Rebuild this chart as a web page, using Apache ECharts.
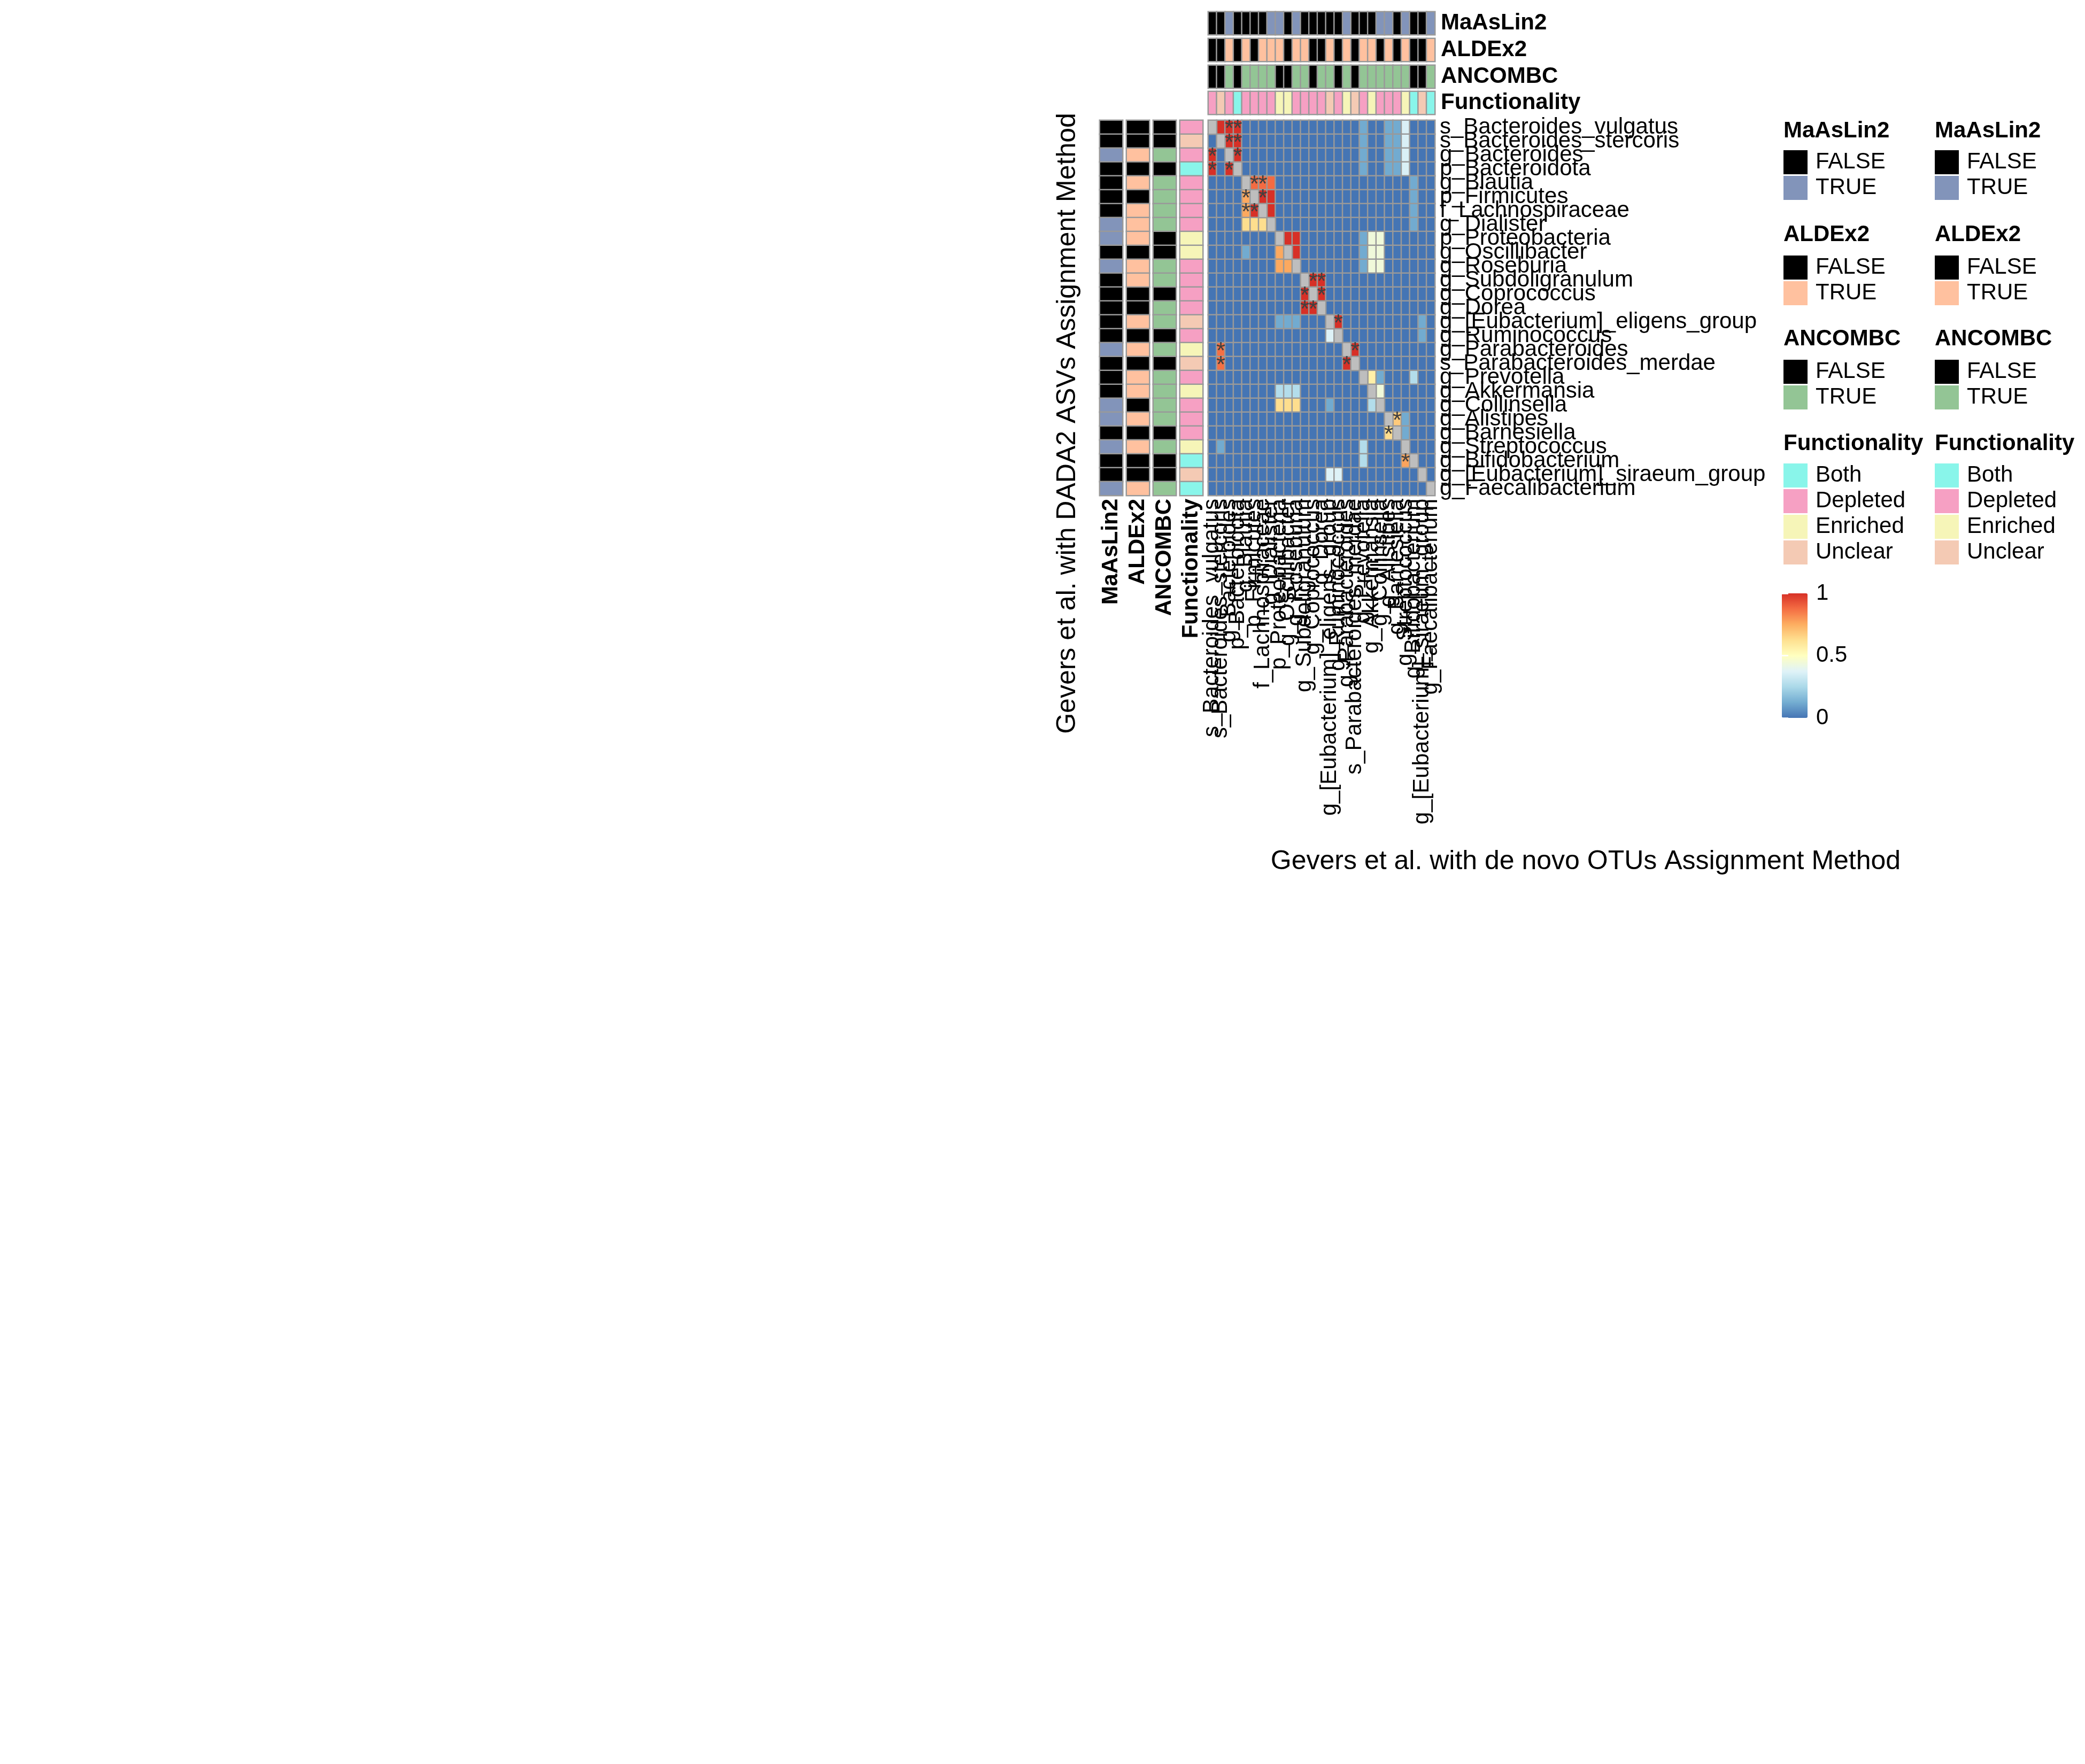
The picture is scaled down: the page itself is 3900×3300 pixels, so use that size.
<!DOCTYPE html>
<html><head><meta charset="utf-8">
<script src="https://cdn.jsdelivr.net/npm/echarts@6/dist/echarts.min.js"></script>
<style>html,body{margin:0;padding:0;background:#fff}#chart{width:3900px;height:3300px}</style>
</head><body><div id="chart"></div>
<script>
// ---------------- DATA ----------------
const rowTaxa = ['s_Bacteroides_vulgatus','s_Bacteroides_stercoris','g_Bacteroides','p_Bacteroidota','g_Blautia','p_Firmicutes','f_Lachnospiraceae','g_Dialister','p_Proteobacteria','g_Oscillibacter','g_Roseburia','g_Subdoligranulum','g_Coprococcus','g_Dorea','g_[Eubacterium]_eligens_group','g_Ruminococcus','g_Parabacteroides','s_Parabacteroides_merdae','g_Prevotella','g_Akkermansia','g_Collinsella','g_Alistipes','g_Barnesiella','g_Streptococcus','g_Bifidobacterium','g_[Eubacterium]_siraeum_group','g_Faecalibacterium'];
const colTaxa = ['s_Bacteroides_vulgatus','s_Bacteroides_stercoris','g_Bacteroides','p_Bacteroidota','g_Blautia','p_Firmicutes','f_Lachnospiraceae','g_Dialister','p_Proteobacteria','g_Oscillibacter','g_Roseburia','g_Subdoligranulum','g_Coprococcus','g_Dorea','g_[Eubacterium]_eligens_group','g_Ruminococcus','g_Parabacteroides','s_Parabacteroides_merdae','g_Prevotella','g_Akkermansia','g_Collinsella','g_Alistipes','g_Barnesiella','g_Streptococcus','g_Bifidobacterium','g_[Eubacterium]_siraeum_group','g_Faecalibacterium'];

const rowMaAsLin2 = ['FALSE','FALSE','TRUE','FALSE','FALSE','FALSE','FALSE','TRUE','TRUE','FALSE','TRUE','FALSE','FALSE','FALSE','FALSE','FALSE','TRUE','FALSE','FALSE','FALSE','TRUE','TRUE','FALSE','TRUE','FALSE','FALSE','TRUE'];
const rowALDEx2   = ['FALSE','FALSE','TRUE','FALSE','TRUE','FALSE','TRUE','TRUE','TRUE','FALSE','TRUE','TRUE','FALSE','FALSE','TRUE','FALSE','TRUE','FALSE','TRUE','TRUE','FALSE','TRUE','FALSE','TRUE','FALSE','FALSE','TRUE'];
const rowANCOMBC  = ['FALSE','FALSE','TRUE','FALSE','TRUE','TRUE','TRUE','TRUE','FALSE','FALSE','TRUE','TRUE','FALSE','TRUE','TRUE','FALSE','TRUE','FALSE','TRUE','TRUE','TRUE','TRUE','FALSE','TRUE','FALSE','FALSE','TRUE'];
const rowFunctionality = ['Depleted','Unclear','Depleted','Both','Depleted','Depleted','Depleted','Depleted','Enriched','Enriched','Depleted','Depleted','Depleted','Depleted','Unclear','Depleted','Enriched','Unclear','Depleted','Enriched','Depleted','Depleted','Depleted','Enriched','Both','Unclear','Both'];

const colMaAsLin2 = ['FALSE','FALSE','TRUE','FALSE','FALSE','FALSE','FALSE','TRUE','TRUE','FALSE','TRUE','FALSE','FALSE','FALSE','FALSE','FALSE','TRUE','FALSE','FALSE','FALSE','TRUE','TRUE','FALSE','TRUE','FALSE','FALSE','TRUE'];
const colALDEx2   = ['FALSE','FALSE','TRUE','FALSE','TRUE','FALSE','TRUE','TRUE','TRUE','FALSE','TRUE','TRUE','FALSE','FALSE','TRUE','FALSE','TRUE','FALSE','TRUE','TRUE','FALSE','TRUE','FALSE','TRUE','FALSE','FALSE','TRUE'];
const colANCOMBC  = ['FALSE','FALSE','TRUE','FALSE','TRUE','TRUE','TRUE','TRUE','FALSE','FALSE','TRUE','TRUE','FALSE','TRUE','TRUE','FALSE','TRUE','FALSE','TRUE','TRUE','TRUE','TRUE','TRUE','TRUE','FALSE','FALSE','TRUE'];
const colFunctionality = ['Depleted','Unclear','Depleted','Both','Depleted','Depleted','Depleted','Depleted','Enriched','Enriched','Depleted','Depleted','Depleted','Depleted','Unclear','Depleted','Enriched','Unclear','Depleted','Enriched','Depleted','Depleted','Depleted','Enriched','Both','Unclear','Both'];

// heatmap values (rows = DADA2 ASVs, columns = de novo OTUs); null = NA (diagonal)
const corr = [
 [null,1,1,1,0,0,0,0,0,0,0,0,0,0,0,0,0,0,0.12,0,0,0.12,0.12,0.36,0,0,0],
 [0,null,1,1,0,0,0,0,0,0,0,0,0,0,0,0,0,0,0.12,0,0,0.12,0.12,0.36,0,0,0],
 [1,0,null,1,0,0,0,0,0,0,0,0,0,0,0,0,0,0,0.12,0,0,0.12,0.12,0.36,0,0,0],
 [1,0,1,null,0,0,0,0,0,0,0,0,0,0,0,0,0,0,0.12,0,0,0.12,0.12,0.36,0,0,0],
 [0,0,0,0,null,0.88,0.88,0.88,0,0,0,0,0,0,0,0,0,0,0,0,0,0,0,0,0.12,0,0],
 [0,0,0,0,0.76,null,1,1,0,0,0,0,0,0,0,0,0,0,0,0,0,0,0,0,0.12,0,0],
 [0,0,0,0,0.76,1,null,1,0,0,0,0,0,0,0,0,0,0,0,0,0,0,0,0,0.12,0,0],
 [0,0,0,0,0.63,0.63,0.63,null,0,0,0,0,0,0,0,0,0,0,0,0,0,0,0,0,0.12,0,0],
 [0,0,0,0,0,0,0,0,null,1,1,0,0,0,0,0,0,0,0.12,0.44,0.44,0,0,0,0,0,0],
 [0,0,0,0,0.12,0,0,0,0.76,null,1,0,0,0,0,0,0,0,0.12,0.44,0.44,0,0,0,0,0,0],
 [0,0,0,0,0,0,0,0,0.76,0.76,null,0,0,0,0,0,0,0,0.12,0.44,0.44,0,0,0,0,0,0],
 [0,0,0,0,0,0,0,0,0,0,0,null,1,1,0,0,0,0,0,0,0,0,0,0,0,0,0],
 [0,0,0,0,0,0,0,0,0,0,0,1,null,1,0,0,0,0,0,0,0,0,0,0,0,0,0],
 [0,0,0,0,0,0,0,0,0,0,0,1,1,null,0,0,0,0,0,0,0,0,0,0,0,0,0],
 [0,0,0,0,0,0,0,0,0.12,0.12,0.12,0,0,0,null,1,0,0,0,0,0,0,0,0,0,0.12,0],
 [0,0,0,0,0,0,0,0,0,0,0,0,0,0,0.37,null,0,0,0,0,0,0,0,0,0,0.12,0],
 [0,0.87,0,0,0,0,0,0,0,0,0,0,0,0,0,0,null,1,0,0,0,0,0,0,0,0,0],
 [0,0.87,0,0,0,0,0,0,0,0,0,0,0,0,0,0,1,null,0,0,0,0,0,0,0,0,0],
 [0,0,0,0,0,0,0,0,0,0,0,0,0,0,0,0,0,0,null,0.56,0.12,0,0,0,0.27,0,0],
 [0,0,0,0,0,0,0,0,0.27,0.27,0.27,0,0,0,0,0,0,0,0,null,0.44,0,0,0,0,0,0],
 [0,0,0,0,0,0,0,0,0.63,0.63,0.63,0,0,0,0.12,0,0,0,0,0.27,null,0,0,0,0,0,0],
 [0,0,0,0,0,0,0,0,0,0,0,0,0,0,0,0,0,0,0,0,0,null,0.68,0.12,0,0,0],
 [0,0,0,0,0,0,0,0,0,0,0,0,0,0,0,0,0,0,0,0,0,0.63,null,0.12,0,0,0],
 [0,0.12,0,0,0,0,0,0,0,0,0,0,0,0,0,0,0,0,0.27,0,0,0,0,null,0,0,0],
 [0,0,0,0,0,0,0,0,0,0,0,0,0,0,0,0,0,0,0.27,0,0,0,0,0.77,null,0,0],
 [0,0,0,0,0,0,0,0,0,0,0,0,0,0,0.37,0.37,0,0,0,0,0,0,0,0,0,null,0],
 [0,0,0,0,0,0,0,0,0,0,0,0,0,0,0,0,0,0,0,0,0,0,0,0,0,0,null]
];
// significant cells [row, col] marked with "*"
const sigCells = [[0,2],[0,3],[1,2],[1,3],[2,0],[2,3],[3,0],[3,2],[4,5],[4,6],[5,4],[5,6],[6,4],[6,5],[11,12],[11,13],[12,11],[12,13],[13,11],[13,12],[14,15],[16,1],[16,17],[17,1],[17,16],[21,22],[22,21],[24,23]];

const boolLevels = ['FALSE','TRUE'];
const funcLevels = ['Both','Depleted','Enriched','Unclear'];
const colorbarTicks = [0, 0.5, 1];

// ---------------- STYLE ----------------
const FONT = 'Liberation Sans, Arial, Helvetica, sans-serif';
const scaleColors = ['#4575b4','#74add1','#abd9e9','#e0f3f8','#ffffbf','#fee090','#fdae61','#f46d43','#d73027'];
const annoColors = {
  MaAsLin2: ['#000000','#8294BA'],
  ALDEx2: ['#000000','#FFC19F'],
  ANCOMBC: ['#000000','#93C595'],
  Functionality: ['#89F5EA','#F6A0C3','#F6F5B8','#F4CAB4']
};
const GRIDLINE = '#999999';
const BW = 2.5;

const annoNames = ['MaAsLin2','ALDEx2','ANCOMBC','Functionality'];
const rowAnno = [rowMaAsLin2, rowALDEx2, rowANCOMBC, rowFunctionality];
const colAnno = [colMaAsLin2, colALDEx2, colANCOMBC, colFunctionality];
const levelsOf = n => n === 'Functionality' ? funcLevels : boolLevels;

// ---------------- BUILD ----------------
const isSig = (r, c) => sigCells.some(s => s[0] === r && s[1] === c);
const mainData = [], naData = [];
corr.forEach((row, r) => row.forEach((v, c) => {
  if (v === null) naData.push([c, r, 1]);
  else {
    const item = { value: [c, r, v] };
    if (isSig(r, c)) item.label = { show: true };
    mainData.push(item);
  }
}));

const main = { left: 2260, top: 225, width: 424, height: 702 };
const topTracks = [22, 72, 122, 171];
const leftTracks = [2057, 2107, 2157, 2207];
const TRACK = 43;

const grid = [main];
const xAxis = [], yAxis = [], series = [];
const hiddenAxis = { axisLine: { show: false }, axisTick: { show: false }, splitLine: { show: false } };

xAxis.push(Object.assign({ gridIndex: 0, type: 'category', data: colTaxa, position: 'bottom',
  axisLabel: { interval: 0, rotate: 90, fontSize: 42, color: '#000', margin: 6, fontFamily: FONT } }, hiddenAxis));
yAxis.push(Object.assign({ gridIndex: 0, type: 'category', data: rowTaxa, inverse: true, position: 'right',
  axisLabel: { interval: 0, fontSize: 42, color: '#000', margin: 9, fontFamily: FONT } }, hiddenAxis));

series.push({ type: 'heatmap', name: 'main', xAxisIndex: 0, yAxisIndex: 0, data: mainData,
  itemStyle: { borderColor: GRIDLINE, borderWidth: BW },
  label: { show: false, formatter: '*', fontSize: 44, color: '#404040', fontFamily: FONT, offset: [0, 5] },
  emphasis: { disabled: true } });
series.push({ type: 'heatmap', name: 'NA', xAxisIndex: 0, yAxisIndex: 0, data: naData,
  itemStyle: { color: '#BEBEBE', borderColor: GRIDLINE, borderWidth: BW }, emphasis: { disabled: true } });

// top (column) annotations
annoNames.forEach((n, i) => {
  const gi = grid.length;
  grid.push({ left: main.left, top: topTracks[i], width: main.width, height: TRACK });
  xAxis.push({ gridIndex: gi, type: 'category', data: colTaxa, show: false });
  yAxis.push(Object.assign({ gridIndex: gi, type: 'category', data: [n], position: 'right',
    axisLabel: { fontSize: 42, fontWeight: 'bold', color: '#000', margin: 11, fontFamily: FONT } }, hiddenAxis));
  const lv = levelsOf(n);
  series.push({ type: 'heatmap', name: 'col_' + n, xAxisIndex: gi, yAxisIndex: gi,
    data: colAnno[i].map((v, c) => [c, 0, lv.indexOf(v)]),
    itemStyle: { borderColor: GRIDLINE, borderWidth: BW }, emphasis: { disabled: true } });
});
// left (row) annotations
annoNames.forEach((n, i) => {
  const gi = grid.length;
  grid.push({ left: leftTracks[i], top: main.top, width: TRACK, height: main.height });
  xAxis.push(Object.assign({ gridIndex: gi, type: 'category', data: [n], position: 'bottom',
    axisLabel: { rotate: 90, fontSize: 42, fontWeight: 'bold', color: '#000', margin: 6, fontFamily: FONT } }, hiddenAxis));
  yAxis.push({ gridIndex: gi, type: 'category', data: rowTaxa, inverse: true, show: false });
  const lv = levelsOf(n);
  series.push({ type: 'heatmap', name: 'row_' + n, xAxisIndex: gi, yAxisIndex: gi,
    data: rowAnno[i].map((v, r) => [0, r, lv.indexOf(v)]),
    itemStyle: { borderColor: GRIDLINE, borderWidth: BW }, emphasis: { disabled: true } });
});

// colour bar axis grid
const cb = { left: 3333, top: 1110, width: 48, height: 233 };
const cbGrid = grid.length;
grid.push(cb);
xAxis.push({ gridIndex: cbGrid, type: 'value', min: 0, max: 1, show: false });
const cbTick = { show: true, inside: true, length: 12, lineStyle: { color: '#ffffff', width: 2.5 } };
yAxis.push({ gridIndex: cbGrid, type: 'value', min: colorbarTicks[0], max: colorbarTicks[2], interval: colorbarTicks[1] - colorbarTicks[0],
  position: 'right', z: 10, axisLine: { show: false }, splitLine: { show: false }, axisTick: cbTick,
  axisLabel: { fontSize: 42, color: '#000', margin: 16, fontFamily: FONT } });
yAxis.push({ gridIndex: cbGrid, type: 'value', min: colorbarTicks[0], max: colorbarTicks[2], interval: colorbarTicks[1] - colorbarTicks[0],
  position: 'left', z: 10, axisLine: { show: false }, splitLine: { show: false }, axisTick: cbTick,
  axisLabel: { show: false } });

// visual maps
const visualMap = [{
  type: 'continuous', seriesIndex: 0, min: 0, max: 1, calculable: false, realtime: false,
  left: cb.left, top: cb.top, itemWidth: cb.width, itemHeight: cb.height, padding: 0,
  inRange: { color: scaleColors }, text: null, show: true, hoverLink: false
}];
const legendCols = [3336, 3619];
const legendSwatchTop = [281, 478, 673, 867];
const legendTitleY = [245, 439, 634, 830];
const graphics = [];
annoNames.forEach((n, i) => {
  const lv = levelsOf(n);
  legendCols.forEach(x => {
    visualMap.push({
      type: 'piecewise', seriesIndex: [2 + i, 6 + i], orient: 'vertical', inverse: true, left: x, top: legendSwatchTop[i],
      padding: 0, itemWidth: 45, itemHeight: 45, itemGap: 3, itemSymbol: 'rect', align: 'left', textGap: 15,
      hoverLink: false, selectedMode: false,
      textStyle: { fontSize: 42, color: '#000', fontFamily: FONT },
      pieces: lv.map((l, k) => ({ value: k, label: l, color: annoColors[n][k] }))
    });
    graphics.push({ type: 'text', x: x, y: legendTitleY[i],
      style: { text: n, fill: '#000', font: 'bold 42px ' + FONT, verticalAlign: 'middle', align: 'left' } });
  });
});
// axis titles
graphics.push({ type: 'text', x: 1997, y: 792, rotation: Math.PI / 2,
  style: { text: 'Gevers et al. with DADA2 ASVs Assignment Method', font: '50px ' + FONT, fill: '#000', align: 'center', verticalAlign: 'middle' } });
graphics.push({ type: 'text', x: 2966, y: 1612,
  style: { text: 'Gevers et al. with de novo OTUs Assignment Method', font: '50px ' + FONT, fill: '#000', align: 'center', verticalAlign: 'middle' } });

const chart = echarts.init(document.getElementById('chart'), null, { renderer: 'canvas' });
chart.setOption({
  backgroundColor: '#ffffff',
  animation: false,
  textStyle: { fontFamily: FONT },
  tooltip: { show: false },
  grid, xAxis, yAxis, visualMap, series,
  graphic: graphics
});
</script></body></html>
